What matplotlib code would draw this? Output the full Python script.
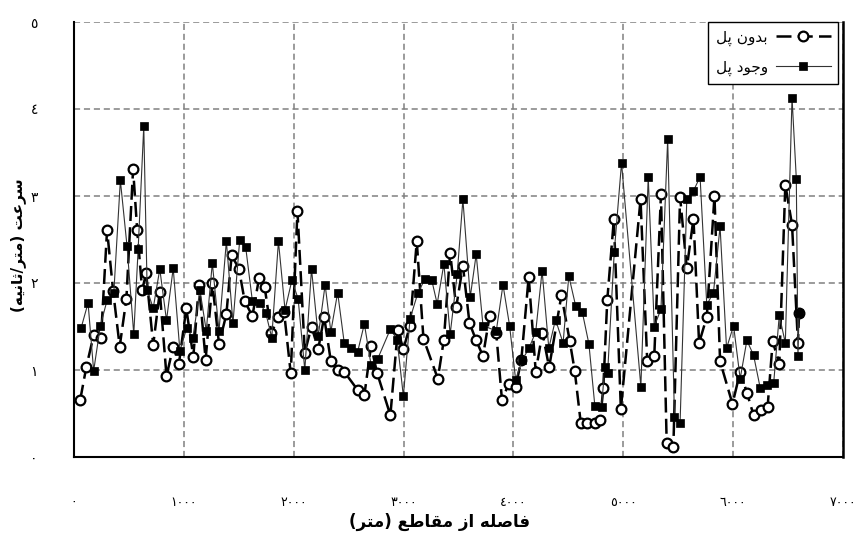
import matplotlib
matplotlib.use("Agg")
import matplotlib.pyplot as plt

# ---------------- data ----------------
# بدون پل (without bridge)
no_bridge_x = [57,113,179,246,301,356,416,477,538,575,620,657,721,781,842,903,955,1022,1086,1137,
               1198,1259,1320,1387,1435,1502,1554,1624,1685,1736,1797,1858,1912,1973,2034,2101,2162,2223,2277,2338,
               2400,2460,2582,2643,2704,2758,2880,2947,2998,3059,3120,3181,3312,3367,3424,3479,3540,3600,3661,3723,
               3783,3844,3896,3956,4020,4072,4139,4203,4264,4325,4437,4513,4558,4613,4674,4741,4790,4818,4854,4914,
               4978,5157,5218,5282,5343,5395,5456,5517,5578,5639,5690,5760,5830,5881,5994,6064,6125,6186,6255,6314,
               6360,6420,6475,6536,6590,6600]
no_bridge_y = [0.66,1.04,1.40,1.37,2.61,1.91,1.27,1.82,3.31,2.61,1.92,2.11,1.29,1.90,0.93,1.27,1.07,1.71,1.15,1.98,
               1.12,2.00,1.30,1.64,2.32,2.16,1.79,1.62,2.06,1.95,1.42,1.61,1.67,0.96,2.83,1.20,1.50,1.24,1.61,1.10,
               1.00,0.98,0.77,0.71,1.28,0.97,0.48,1.46,1.24,1.51,2.48,1.36,0.90,1.35,2.35,1.72,2.20,1.54,1.34,1.16,
               1.62,1.42,0.65,0.84,0.80,1.12,2.07,0.98,1.43,1.03,1.86,1.33,0.99,0.39,0.39,0.39,0.43,0.79,1.80,2.73,
               0.55,2.96,1.10,1.16,3.02,0.16,0.12,2.99,2.17,2.74,1.31,1.61,3.00,1.10,0.61,0.98,0.74,0.48,0.54,0.58,
               1.33,1.07,3.13,2.67,1.31,1.65]

# وجود پل (with bridge)
bridge_x = [64,128,179,240,301,362,422,483,544,584,635,666,721,781,842,903,964,1025,1082,1146,
            1204,1259,1320,1387,1447,1508,1563,1624,1691,1745,1800,1861,1921,1983,2040,2101,2162,2223,2286,2338,
            2400,2460,2521,2582,2643,2704,2765,2880,2941,2998,3059,3129,3196,3257,3306,3367,3424,3488,3540,3607,
            3661,3723,3844,3905,3965,4020,4082,4142,4203,4261,4322,4383,4452,4504,4566,4626,4687,4741,4802,4832,
            4857,4918,4984,5160,5227,5282,5343,5404,5466,5517,5578,5639,5699,5760,5821,5881,5940,6004,6064,6125,
            6186,6247,6308,6369,6420,6475,6536,6575,6590,6600]
bridge_y = [1.48,1.77,0.99,1.51,1.80,1.88,3.18,2.42,1.41,2.39,3.80,1.92,1.71,2.16,1.57,2.17,1.22,1.48,1.37,1.92,
            1.45,2.23,1.45,2.48,1.54,2.49,2.41,1.79,1.77,1.66,1.37,2.48,1.69,2.03,1.82,1.00,2.16,1.39,1.98,1.44,
            1.89,1.31,1.25,1.21,1.53,1.06,1.13,1.47,1.35,0.70,1.59,1.88,2.05,2.03,1.76,2.22,1.41,2.10,2.96,1.84,
            2.33,1.51,1.45,1.98,1.51,0.89,1.12,1.25,1.44,2.14,1.25,1.58,1.31,2.08,1.74,1.67,1.30,0.59,0.58,1.03,
            0.96,2.36,3.38,0.81,3.22,1.50,1.70,3.65,0.46,0.39,2.96,3.06,3.22,1.75,1.89,2.65,1.25,1.51,0.90,1.34,
            1.17,0.79,0.83,0.85,1.63,1.31,4.13,3.20,1.16,1.66]

x_ticks = [0, 1000, 2000, 3000, 4000, 5000, 6000, 7000]
x_tick_labels = ["٠", "١٠٠٠", "٢٠٠٠", "٣٠٠٠", "٤٠٠٠", "٥٠٠٠", "٦٠٠٠", "٧٠٠٠"]
y_ticks = [0, 1, 2, 3, 4, 5]
y_tick_labels = ["٠", "١", "٢", "٣", "٤", "٥"]

label_no_bridge = "بدون پل"
label_bridge = "وجود پل"
x_label = "فاصله از مقاطع (متر)"
y_label = "سرعت (متر/ثانیه)"

# ------------- simple Arabic/Persian shaping (no external libs) -------------
_FORMS = {
    'ا': ('\uFE8D', '\uFE8E', None, None),
    'ب': ('\uFE8F', '\uFE90', '\uFE91', '\uFE92'),
    'پ': ('\uFB56', '\uFB57', '\uFB58', '\uFB59'),
    'ت': ('\uFE95', '\uFE96', '\uFE97', '\uFE98'),
    'ث': ('\uFE99', '\uFE9A', '\uFE9B', '\uFE9C'),
    'ج': ('\uFE9D', '\uFE9E', '\uFE9F', '\uFEA0'),
    'د': ('\uFEA9', '\uFEAA', None, None),
    'ر': ('\uFEAD', '\uFEAE', None, None),
    'ز': ('\uFEAF', '\uFEB0', None, None),
    'س': ('\uFEB1', '\uFEB2', '\uFEB3', '\uFEB4'),
    'ص': ('\uFEB9', '\uFEBA', '\uFEBB', '\uFEBC'),
    'ط': ('\uFEC1', '\uFEC2', '\uFEC3', '\uFEC4'),
    'ع': ('\uFEC9', '\uFECA', '\uFECB', '\uFECC'),
    'ف': ('\uFED1', '\uFED2', '\uFED3', '\uFED4'),
    'ق': ('\uFED5', '\uFED6', '\uFED7', '\uFED8'),
    'ل': ('\uFEDD', '\uFEDE', '\uFEDF', '\uFEE0'),
    'م': ('\uFEE1', '\uFEE2', '\uFEE3', '\uFEE4'),
    'ن': ('\uFEE5', '\uFEE6', '\uFEE7', '\uFEE8'),
    'ه': ('\uFEE9', '\uFEEA', '\uFEEB', '\uFEEC'),
    'و': ('\uFEED', '\uFEEE', None, None),
    'ی': ('\uFEEF', '\uFEF0', '\uFEF3', '\uFEF4'),
}
_MIRROR = {'(': ')', ')': '('}


def rtl(text):
    out = []
    n = len(text)
    for i, ch in enumerate(text):
        if ch not in _FORMS:
            out.append(_MIRROR.get(ch, ch))
            continue
        prev = text[i - 1] if i > 0 else None
        nxt = text[i + 1] if i < n - 1 else None
        iso, fin, ini, med = _FORMS[ch]
        join_prev = prev in _FORMS and _FORMS[prev][2] is not None
        join_next = ini is not None and nxt in _FORMS
        if join_prev and join_next:
            g = med
        elif join_prev:
            g = fin
        elif join_next:
            g = ini
        else:
            g = iso
        out.append(g)
    return ''.join(reversed(out))


# ---------------- figure ----------------
plt.rcParams['font.family'] = ['DejaVu Sans']
fig = plt.figure(figsize=(8.61, 5.37), dpi=100)
ax = fig.add_axes([74 / 861, 1 - 457 / 537, (843 - 74) / 861, (457 - 22) / 537])

ax.plot(no_bridge_x, no_bridge_y, color='black', lw=1.8, ls=(0, (6, 2.5)),
        marker='o', ms=7, mfc='white', mec='black', mew=1.6, label=rtl(label_no_bridge), zorder=3)
ax.plot(bridge_x, bridge_y, color='#333333', lw=0.8, ls='-',
        marker='s', ms=6.3, mfc='black', mec='black', mew=0.5, label=rtl(label_bridge), zorder=4)

ax.set_xlim(0, 7000)
ax.set_ylim(0, 5)
ax.set_xticks(x_ticks)
ax.set_xticklabels(x_tick_labels, fontsize=9)
ax.set_yticks(y_ticks)
ax.set_yticklabels(y_tick_labels, fontsize=10)
ax.tick_params(axis='both', length=0)
ax.tick_params(axis='x', pad=28)
ax.tick_params(axis='y', pad=26)

ax.grid(True, color='#808080', ls=(0, (4, 2.5)), lw=1.1)
ax.set_axisbelow(True)

for s in ['left', 'bottom']:
    ax.spines[s].set_color('black')
    ax.spines[s].set_linewidth(1.5)
ax.spines['right'].set_color('black')
ax.spines['right'].set_linewidth(1.8)
ax.spines['top'].set_visible(False)

fig.text(440 / 861, 1 - 522 / 537, rtl(x_label), fontsize=12, fontweight='bold',
         ha='center', va='center')
fig.text(18 / 861, 1 - 245 / 537, rtl(y_label), fontsize=11, fontweight='bold',
         ha='center', va='center', rotation=90)

leg = ax.legend(loc='upper right', bbox_to_anchor=(0.994, 1.0), markerfirst=False,
                fontsize=11, frameon=True, fancybox=False, framealpha=1,
                edgecolor='black', handlelength=3.6, borderpad=0.5, labelspacing=0.9,
                handletextpad=0.5, borderaxespad=0)
leg.get_frame().set_linewidth(1.0)

fig.savefig('out.png', dpi=100)
